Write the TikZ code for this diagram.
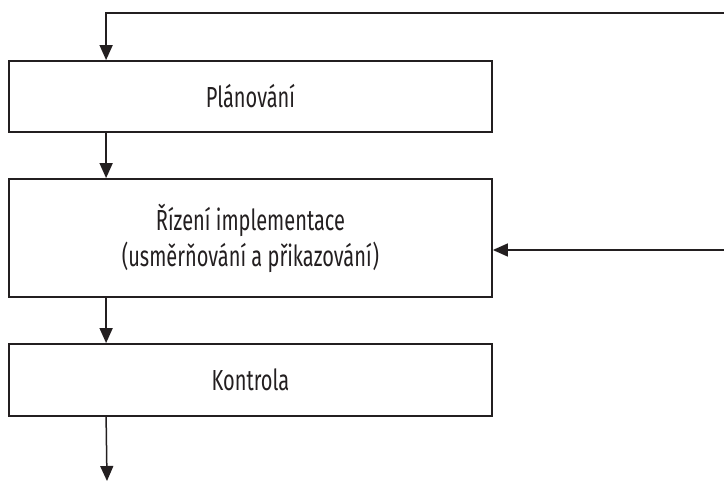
\documentclass[tikz,border=0pt]{standalone}
\usepackage{fontspec}
\setmainfont{Fira Sans}[FakeStretch=0.69]
\usetikzlibrary{arrows.meta}
\definecolor{ink}{HTML}{231F20}

\begin{document}
\begin{tikzpicture}[x=1pt, y=-1pt,
  stage/.style={draw=ink, line width=1.8pt, minimum width=483pt, inner sep=0pt,
    align=center, font=\fontsize{29}{36}\selectfont, text=ink},
  arr/.style={-{Triangle[length=15pt, width=13pt]}, line width=1.5pt, draw=ink}]
\useasboundingbox (0,0) rectangle (724,481);
\node [stage, minimum height=71pt] (plan) at (250.5,96.5) {Plánování};
\node [stage, minimum height=118pt] (impl) at (250.5,238) {Řízení implementace\\(usměrňování a přikazování)};
\node [stage, minimum height=72pt] (ctrl) at (250.5,380) {Kontrola};
\coordinate (fbtop) at (724,13);
\coordinate (fbmid) at (724,250);
\coordinate (out) at (107,481);
% feedback lines come in from the right edge
\draw [arr] (fbtop) -| ([xshift=98pt]plan.north west);
\draw [arr] (fbmid) -- (fbmid -| impl.east);
% flow down the stages
\draw [arr] ([xshift=98pt]plan.south west) -- ([xshift=98pt]impl.north west);
\draw [arr] ([xshift=98pt]impl.south west) -- ([xshift=98pt]ctrl.north west);
\draw [arr] ([xshift=98pt]ctrl.south west) -- (out);
\end{tikzpicture}
\end{document}
